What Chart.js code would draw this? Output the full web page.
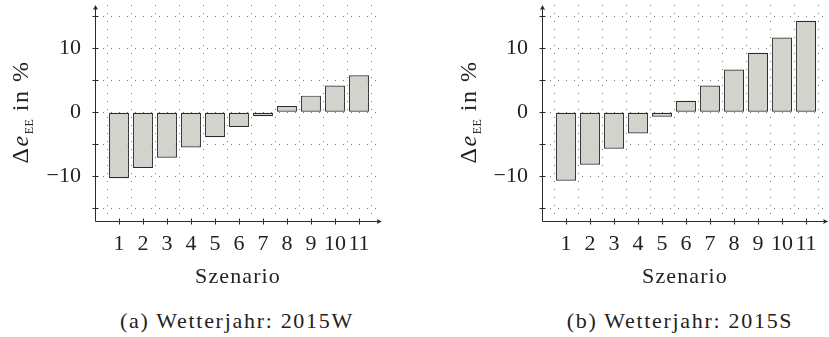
<!DOCTYPE html>
<html><head><meta charset="utf-8">
<script src="https://cdn.jsdelivr.net/npm/chart.js@4"></script>
<style>
html,body{margin:0;padding:0;background:#fff;}
body{width:829px;height:337px;position:relative;overflow:hidden;font-family:'Liberation Serif',serif;color:#222;}
canvas{position:absolute;top:0;}
.t{position:absolute;font-size:22px;line-height:22px;text-align:center;white-space:nowrap;}
.yt{position:absolute;width:200px;height:24px;font-size:24px;line-height:24px;text-align:center;white-space:nowrap;transform:rotate(-90deg);letter-spacing:1.5px;}
.yt sub{font-size:12px;letter-spacing:0.5px;vertical-align:-5px;line-height:0;}
</style></head><body>
<canvas id="ca" width="400" height="300" style="left:0px"></canvas>
<canvas id="cb" width="382" height="300" style="left:447px"></canvas>
<div class="yt" style="left:-80px;top:99.5px">Δ<i>e</i><sub>EE</sub> in %</div>
<div class="yt" style="left:367.5px;top:99.5px">Δ<i>e</i><sub>EE</sub> in %</div>
<div class="t" style="left:88px;width:300px;top:264.6px;letter-spacing:1.1px">Szenario</div>
<div class="t" style="left:535px;width:300px;top:264.6px;letter-spacing:1.1px">Szenario</div>
<div class="t" style="left:87px;width:300px;top:309.6px;letter-spacing:1.7px">(a) Wetterjahr: 2015W</div>
<div class="t" style="left:530px;width:300px;top:309.6px;letter-spacing:1.7px">(b) Wetterjahr: 2015S</div>
<script>
const scenarios = [1, 2, 3, 4, 5, 6, 7, 8, 9, 10, 11];
const delta2015W = [-10.3, -8.7, -7.1, -5.5, -3.9, -2.3, -0.6, 1.0, 2.6, 4.2, 5.8];
const delta2015S = [-10.7, -8.2, -5.7, -3.3, -0.7, 1.8, 4.2, 6.7, 9.3, 11.7, 14.3];
const yGridValues = [-15, -10, -5, 0, 5, 10, 15];
const yLabelValues = [-10, 0, 10];
const yLabelTexts = ['\u221210', '0', '10'];

const FONT = {family: "'Liberation Serif', serif", size: 22};
const INK = '#2b2b2b';

const axesPlugin = {
  id: 'axesPlugin',
  afterDraw(chart) {
    const {ctx, chartArea: {left, right, top, bottom}, scales: {x, y}} = chart;
    ctx.save();
    ctx.strokeStyle = INK; ctx.fillStyle = INK; ctx.lineWidth = 1;
    const L = Math.round(left) + 0.5, B = Math.round(bottom) + 0.5;
    const line = (x1, y1, x2, y2) => { ctx.beginPath(); ctx.moveTo(x1, y1); ctx.lineTo(x2, y2); ctx.stroke(); };
    line(L, B, L, top + 2);
    line(L, B, right - 2, B);
    ctx.beginPath(); ctx.moveTo(L, top); ctx.lineTo(L - 2.6, top + 5); ctx.lineTo(L, top + 4); ctx.lineTo(L + 2.6, top + 5); ctx.closePath(); ctx.fill();
    ctx.beginPath(); ctx.moveTo(right, B); ctx.lineTo(right - 5, B - 2.6); ctx.lineTo(right - 4, B); ctx.lineTo(right - 5, B + 2.6); ctx.closePath(); ctx.fill();
    y.ticks.forEach(t => { const p = Math.round(y.getPixelForValue(t.value)) + 0.5; line(L - 3, p, L + 3, p); });
    x.ticks.forEach(t => { const p = Math.round(x.getPixelForValue(t.value)) + 0.5; line(p, B - 3, p, B + 3); });
    ctx.restore();
  }
};

function makeChart(id, values, xMax, padRight) {
  return new Chart(document.getElementById(id), {
    type: 'bar',
    data: {
      datasets: [{
        data: scenarios.map((s, i) => ({x: s, y: values[i]})),
        backgroundColor: '#d3d3cd',
        borderColor: INK,
        borderWidth: 1.2,
        borderSkipped: false,
        barPercentage: 0.83,
        categoryPercentage: 1
      }]
    },
    options: {
      responsive: false,
      animation: false,
      devicePixelRatio: 1,
      layout: {padding: {top: 5, right: padRight, left: 0, bottom: 0}},
      plugins: {legend: {display: false}, tooltip: {enabled: false}},
      scales: {
        x: {
          type: 'linear', min: 0, max: xMax, offset: false,
          afterBuildTicks: s => { s.ticks = scenarios.map(v => ({value: v})); },
          afterFit: s => { s.height = 79.3; s.paddingLeft = 0; s.paddingRight = 0; },
          ticks: {font: FONT, color: '#222', padding: 10, maxRotation: 0, autoSkip: false, callback: v => String(v)},
          grid: {color: '#7a7a7a', lineWidth: 1, drawTicks: false},
          border: {display: false, dash: [1, 7]}
        },
        y: {
          type: 'linear', min: -16.94, max: 16.77,
          afterBuildTicks: s => { s.ticks = yGridValues.map(v => ({value: v})); },
          afterFit: s => { s.width = 95; s.paddingTop = 0; s.paddingBottom = 0; },
          ticks: {font: FONT, color: '#222', padding: 14, callback: v => { const k = yLabelValues.indexOf(v); return k >= 0 ? yLabelTexts[k] : ''; }},
          grid: {color: '#7a7a7a', lineWidth: 1, drawTicks: false},
          border: {display: false, dash: [1, 7]}
        }
      }
    },
    plugins: [axesPlugin]
  });
}

makeChart('ca', delta2015W, 11.95, 18.2);
makeChart('cb', delta2015S, 11.92, 0.9);
</script>
</body></html>
